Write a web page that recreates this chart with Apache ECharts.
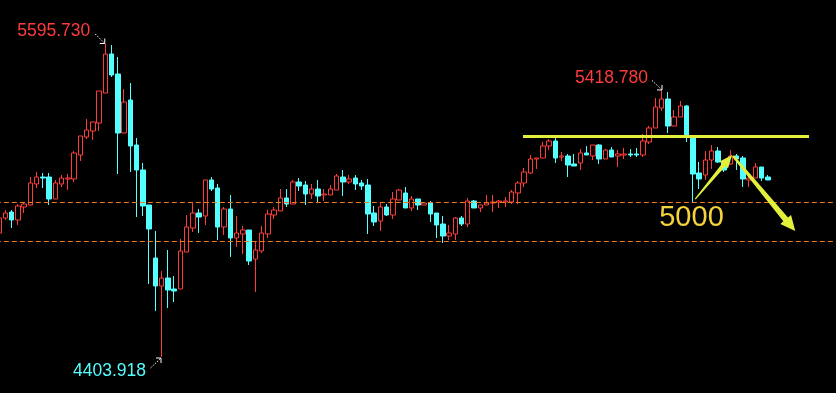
<!DOCTYPE html>
<html><head><meta charset="utf-8">
<script src="https://cdn.jsdelivr.net/npm/echarts@6/dist/echarts.min.js"></script>
<style>html,body{margin:0;padding:0;background:#000;}#c{width:836px;height:393px;}</style>
</head><body><div id="c"></div>
<script>
// ---- data ----
const opens = [4876.1,4933.2,4956.0,4925.6,4975.1,4982.7,5062.7,5089.3,5089.3,5005.5,
5062.7,5081.7,5081.7,5173.1,5241.6,5264.5,5294.9,5409.2,5557.7,5481.5,
5256.8,5382.5,5211.2,5116.0,4982.7,4780.9,4674.3,4704.7,4662.8,4662.8,
4803.7,4895.1,4952.2,4940.8,5077.9,5047.4,4898.9,4967.5,4857.0,4872.3,
4887.5,4777.1,4807.5,4872.3,4944.6,4959.8,5009.4,4986.5,5070.3,5058.8,
5024.6,5043.6,5020.8,5020.8,5039.8,5089.3,5070.3,5085.5,5066.5,5058.8,
4952.2,4921.8,4975.1,4944.6,5001.7,5028.4,4971.3,5005.5,4982.7,4990.3,
4952.2,4910.3,4864.7,4872.3,4933.2,4910.3,4997.9,4971.3,4982.7,4990.3,
4994.1,4994.1,4994.1,5028.4,5066.5,5104.5,5157.8,5161.7,5207.3,5226.4,
5165.5,5169.3,5138.8,5142.6,5180.7,5169.3,5211.2,5157.8,5192.1,5169.3,
5173.1,5176.9,5176.9,5173.1,5222.6,5275.9,5352.0,5386.3,5283.5,5317.8,
5359.7,5245.4,5104.5,5096.9,5154.0,5188.3,5146.4,5138.8,5169.3,5161.7,
5077.9,5085.5,5127.4,5089.3];
const closes = [4933.2,4952.2,4925.6,4978.9,4986.5,5066.5,5089.3,5085.5,5005.5,5066.5,
5085.5,5085.5,5180.7,5245.4,5268.3,5298.7,5416.8,5557.7,5477.7,5256.8,
5374.9,5207.3,5116.0,4978.9,4891.3,4674.3,4704.7,4659.0,4655.2,4807.5,
4898.9,4952.2,4937.0,5077.9,5043.6,4898.9,4967.5,4857.0,4876.1,4887.5,
4769.5,4811.3,4876.1,4948.4,4963.7,5009.4,4986.5,5070.3,5055.0,5024.6,
5043.6,5017.0,5024.6,5043.6,5093.1,5070.3,5081.7,5062.7,5055.0,4948.4,
4918.0,4975.1,4944.6,5005.5,5039.8,4971.3,5005.5,4982.7,4990.3,4948.4,
4906.5,4864.7,4876.1,4933.2,4910.3,4997.9,4971.3,4982.7,4990.3,4994.1,
4997.9,4997.9,5032.2,5066.5,5108.3,5157.8,5161.7,5207.3,5226.4,5161.7,
5169.3,5135.0,5131.2,5180.7,5173.1,5211.2,5157.8,5192.1,5165.5,5176.9,
5176.9,5173.1,5173.1,5226.4,5275.9,5355.9,5386.3,5283.5,5317.8,5359.7,
5249.2,5100.7,5081.7,5154.0,5188.3,5146.4,5116.0,5169.3,5157.8,5081.7,
5085.5,5127.4,5085.5,5077.9];
const lows = [4872.3,4925.6,4895.1,4906.5,4952.2,4981.0,5047.4,5047.4,4982.7,5005.5,
5051.2,5039.8,5070.3,5150.2,5234.0,5230.2,5264.5,5409.2,5470.1,5100.7,
5256.8,5108.3,4937.0,4940.8,4681.9,4579.1,4403.918,4590.5,4613.3,4662.8,
4803.7,4879.9,4876.1,4906.5,5036.0,4849.4,4868.5,4784.7,4822.8,4796.1,
4754.2,4651.4,4799.9,4857.0,4929.4,4959.8,4975.1,4986.5,5036.0,4982.7,
5005.5,4994.1,4997.9,5020.8,5039.8,5017.0,5062.7,5039.8,5039.8,4872.3,
4902.7,4883.7,4940.8,4929.4,5001.7,4971.3,4959.8,4963.7,4982.7,4918.0,
4857.0,4838.0,4849.4,4849.4,4902.7,4898.9,4971.3,4956.0,4982.7,4956.0,
4971.3,4975.1,4986.5,4986.5,5051.2,5100.7,5119.8,5161.7,5192.1,5142.6,
5150.2,5089.3,5131.2,5116.0,5173.1,5154.0,5138.8,5157.8,5165.5,5127.4,
5157.8,5165.5,5165.5,5165.5,5215.0,5275.9,5340.6,5256.8,5283.5,5317.8,
5222.6,4994.1,5043.6,5077.9,5119.8,5142.6,5108.3,5135.0,5116.0,5051.2,
5051.2,5085.5,5074.1,5077.9];
const highs = [4937.0,4963.7,4963.7,4986.5,4990.3,5089.3,5108.3,5104.5,5104.5,5077.9,
5096.9,5100.7,5188.3,5245.4,5310.2,5298.7,5416.8,5595.73,5591.9,5546.2,
5424.4,5447.2,5237.8,5142.6,4982.7,4883.7,4731.4,4811.3,4712.3,4853.2,
4944.6,4990.3,4967.5,5077.9,5089.3,5062.7,4975.1,5020.8,4940.8,4902.7,
4887.5,4845.6,4902.7,4963.7,4975.1,5043.6,5043.6,5077.9,5085.5,5074.1,
5062.7,5077.9,5043.6,5058.8,5100.7,5116.0,5096.9,5096.9,5077.9,5081.7,
4978.9,4994.1,4986.5,5032.2,5043.6,5051.2,5017.0,5005.5,4990.3,4997.9,
4952.2,4940.8,4906.5,4937.0,4940.8,5009.4,5001.7,4982.7,5020.8,5020.8,
5001.7,5013.2,5039.8,5074.1,5123.6,5173.1,5161.7,5222.6,5234.0,5237.8,
5184.5,5176.9,5176.9,5195.9,5207.3,5211.2,5215.0,5195.9,5203.5,5192.1,
5199.7,5195.9,5199.7,5253.0,5283.5,5390.1,5418.78,5413.0,5344.4,5378.7,
5363.5,5249.2,5146.4,5188.3,5211.2,5203.5,5154.0,5192.1,5176.9,5169.3,
5100.7,5142.6,5127.4,5096.9];
const totalSlots = 135;                 // category slots on the x axis (incl. empty right margin)
const dashedLevels = [4993.0, 4844.5];  // orange dashed horizontal levels
const resistanceLevel = 5243.5;         // yellow horizontal line
const resistanceSpan = [83.84, 129.6];  // x extent (slot units)
const arrowUp = [[111.4, 5005.5], [117.3, 5173.1]];
const arrowDown = [[117.45, 5169.3], [127.4, 4883.7]];
const targetText = '5000';
const targetAt = [110.8, 4931.3];
const peakIdx = [17, 26, 106];          // labelled extremes: high, low, local high

// ---- chart ----
const RED = '#ff3c3c', CYAN = '#54ffff', YEL = '#e2f03c', GOLD = '#f3d43c', ORANGE = '#f07a14';
const cats = Array.from({length: totalSlots}, (_, i) => String(i + 1));
const candleData = opens.map((o, i) => [o, closes[i], lows[i], highs[i]]);

const peaks = [
  {idx: peakIdx[0], value: highs[peakIdx[0]], color: RED, tdx: -15, tdy: -13, a: [-10, -10], b: [-0.5, -0.5]},
  {idx: peakIdx[1], value: lows[peakIdx[1]], color: CYAN, tdx: -15.5, tdy: 14, a: [-11, 11], b: [-0.5, 1]},
  {idx: peakIdx[2], value: highs[peakIdx[2]], color: RED, tdx: -13.5, tdy: -12.5, a: [-9.5, -10], b: [0.5, -0.5]}
];
const ann = [
  {kind: 'dash', level: dashedLevels[0]},
  {kind: 'dash', level: dashedLevels[1]},
  {kind: 'hline'},
  {kind: 'arrow', from: arrowUp[0], to: arrowUp[1], head: 13, hw: 5.5, tw: 0.6, nw: 2.2},
  {kind: 'arrow', from: arrowDown[0], to: arrowDown[1], head: 15, hw: 7, tw: 1.2, nw: 3},
  {kind: 'text'},
  {kind: 'peak', p: peaks[0]},
  {kind: 'peak', p: peaks[1]},
  {kind: 'peak', p: peaks[2]}
];

function renderAnn(params, api) {
  const a = ann[params.dataIndex];
  if (a.kind === 'dash') {
    const p1 = api.coord([-0.5, a.level]);
    const p2 = api.coord([totalSlots - 0.5, a.level]);
    const y = Math.round(p1[1]) + 0.5;
    return {type: 'line', shape: {x1: p1[0], y1: y, x2: p2[0], y2: y},
      style: {stroke: ORANGE, lineWidth: 1, lineDash: [5, 3]}};
  }
  if (a.kind === 'hline') {
    const p1 = api.coord([resistanceSpan[0], resistanceLevel]);
    const p2 = api.coord([resistanceSpan[1], resistanceLevel]);
    return {type: 'line', shape: {x1: p1[0], y1: p1[1], x2: p2[0], y2: p2[1]},
      style: {stroke: YEL, lineWidth: 3}};
  }
  if (a.kind === 'arrow') {
    const T = api.coord(a.from), H = api.coord(a.to);
    const dx = H[0] - T[0], dy = H[1] - T[1], L = Math.hypot(dx, dy);
    const ux = dx / L, uy = dy / L, nx = -uy, ny = ux;
    const B = [H[0] - ux * a.head, H[1] - uy * a.head];
    const pts = [
      [T[0] + nx * a.tw, T[1] + ny * a.tw],
      [B[0] + nx * a.nw, B[1] + ny * a.nw],
      [B[0] + nx * a.hw, B[1] + ny * a.hw],
      [H[0], H[1]],
      [B[0] - nx * a.hw, B[1] - ny * a.hw],
      [B[0] - nx * a.nw, B[1] - ny * a.nw],
      [T[0] - nx * a.tw, T[1] - ny * a.tw]
    ];
    return {type: 'polygon', shape: {points: pts}, style: {fill: YEL}};
  }
  if (a.kind === 'text') {
    const p = api.coord(targetAt);
    return {type: 'text', style: {text: targetText, x: p[0], y: p[1], fill: GOLD,
      font: '29px "Liberation Sans", Arial, sans-serif', align: 'center', verticalAlign: 'middle'}};
  }
  if (a.kind === 'peak') {
    const q = a.p, P = api.coord([q.idx, q.value]);
    const s = [P[0] + q.a[0], P[1] + q.a[1]], e = [P[0] + q.b[0], P[1] + q.b[1]];
    const sx = Math.sign(e[0] - s[0]), sy = Math.sign(e[1] - s[1]);
    return {type: 'group', children: [
      {type: 'text', style: {text: q.value.toFixed(3), x: P[0] + q.tdx, y: P[1] + q.tdy, fill: q.color,
        font: '17.5px "Liberation Sans", Arial, sans-serif', align: 'right', verticalAlign: 'middle'}},
      {type: 'line', shape: {x1: s[0], y1: s[1], x2: e[0], y2: e[1]},
        style: {stroke: '#fff', lineWidth: 1, lineDash: [1.5, 1.5]}},
      {type: 'polyline', shape: {points: [[e[0] - sx * 5, e[1]], [e[0], e[1]], [e[0], e[1] - sy * 5]]},
        style: {stroke: '#fff', lineWidth: 1, fill: null}}
    ]};
  }
}

const chart = echarts.init(document.getElementById('c'), null, {renderer: 'canvas'});
chart.setOption({
  backgroundColor: '#000',
  animation: false,
  grid: {left: -4.125, top: 0, width: 843.75, height: 393, containLabel: false, outerBoundsMode: 'none'},
  xAxis: [
    {type: 'category', data: cats, boundaryGap: true, show: false},
    {type: 'value', min: -0.5, max: totalSlots - 0.5, show: false}
  ],
  yAxis: {type: 'value', min: 4266.85, max: 5763.27, show: false, splitLine: {show: false}},
  series: [
    {
      type: 'candlestick', data: candleData, barWidth: 5,
      itemStyle: {color: '#000', color0: CYAN, borderColor: RED, borderColor0: CYAN, borderWidth: 1}
    },
    {
      type: 'custom', xAxisIndex: 1, yAxisIndex: 0, z: 10, silent: true,
      renderItem: renderAnn, data: ann.map((_, i) => [i])
    }
  ]
});
</script></body></html>
